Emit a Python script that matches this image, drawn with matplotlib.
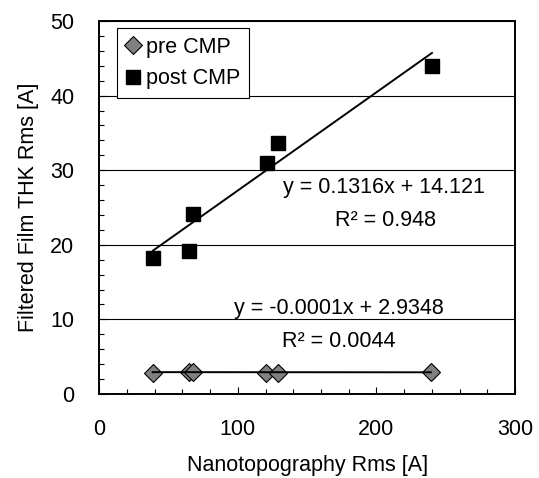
import matplotlib
matplotlib.use("Agg")
import matplotlib.pyplot as plt
from matplotlib.ticker import MultipleLocator
import numpy as np

# data
pre_x = [38.5, 64.7, 67.3, 120.5, 128.7, 239.3]
pre_y = [2.85, 2.9, 3.0, 2.85, 2.85, 2.9]
post_x = [38.9, 64.7, 67.8, 121.2, 129.1, 240.1]
post_y = [18.2, 19.2, 24.1, 31.0, 33.6, 43.9]

# trendline coefficients printed on the chart
pre_fit = (-0.0001, 2.9348)
post_fit = (0.1316, 14.121)
pre_eq = "y = -0.0001x + 2.9348"
pre_r2 = "R² = 0.0044"
post_eq = "y = 0.1316x + 14.121"
post_r2 = "R² = 0.948"

fs = 15.5
plt.rcParams["font.family"] = ["Liberation Sans", "DejaVu Sans"]
plt.rcParams["font.size"] = fs

fig = plt.figure(figsize=(5.39, 4.78), dpi=100)
ax = fig.add_axes([0.1842, 0.1757, 0.7712, 0.7804])

ax.plot(pre_x, pre_y, linestyle="none", marker="D", ms=9, mfc="#808080",
        mec="black", mew=0.8, label="pre CMP", zorder=3)
ax.plot(post_x, post_y, linestyle="none", marker="s", ms=10, mfc="black",
        mec="black", label="post CMP", zorder=3)

# trendlines
for xs, (m, b) in [(pre_x, pre_fit), (post_x, post_fit)]:
    xx = np.array([min(xs), max(xs)])
    ax.plot(xx, m * xx + b, color="black", lw=1.4, zorder=4)

ax.text(205.3, 27.65, post_eq, ha="center", va="center", fontsize=fs)
ax.text(206.7, 23.3, post_r2, ha="center", va="center", fontsize=fs)
ax.text(172.9, 11.5, pre_eq, ha="center", va="center", fontsize=fs)
ax.text(172.9, 7.1, pre_r2, ha="center", va="center", fontsize=fs)

ax.set_xlim(0, 300)
ax.set_ylim(0, 50)
ax.xaxis.set_major_locator(MultipleLocator(100))
ax.xaxis.set_minor_locator(MultipleLocator(20))
ax.yaxis.set_major_locator(MultipleLocator(10))
ax.yaxis.set_minor_locator(MultipleLocator(2))
ax.tick_params(which="both", direction="in", pad=18, width=0.8, color="black")
ax.tick_params(which="major", length=5)
ax.tick_params(which="minor", length=3.5)
ax.tick_params(labelsize=fs)

ax.grid(axis="y", which="major", color="black", lw=0.8)
ax.set_axisbelow(True)
for s in ax.spines.values():
    s.set_linewidth(1.4)
    s.set_color("black")

ax.set_xlabel("Nanotopography Rms [A]", fontsize=fs, labelpad=10.5)
ax.set_ylabel("Filtered Film THK Rms [A]", fontsize=fs, labelpad=8)

leg = ax.legend(loc="upper left", bbox_to_anchor=(0.043, 0.981), borderaxespad=0,
                fancybox=False, edgecolor="black", framealpha=1,
                handlelength=0.7, handletextpad=0.25, labelspacing=0.5,
                borderpad=0.4, fontsize=fs)
leg.get_frame().set_linewidth(0.8)

fig.savefig("out.png", dpi=100)
